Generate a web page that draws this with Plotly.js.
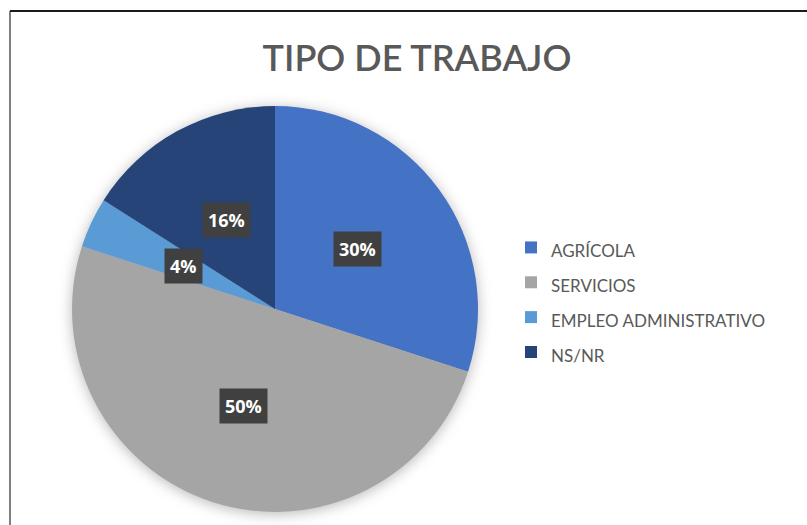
<!DOCTYPE html>
<html>
<head>
<meta charset="utf-8">
<script src="https://cdn.plot.ly/plotly-3.0.1.min.js"></script>
<style>
html,body{margin:0;padding:0;background:#fff;}
#chart{width:807px;height:525px;}
#chart .pielayer{filter: drop-shadow(0px 2px 7px rgba(0,0,0,0.28));}
</style>
</head>
<body>
<div id="chart"></div>
<script>
var categories = ["AGRÍCOLA", "SERVICIOS", "EMPLEO ADMINISTRATIVO", "NS/NR"];
var values = [30, 50, 4, 16];
var colors = ["#4472C4", "#A5A5A5", "#5B9BD5", "#264478"];
var chartTitle = "TIPO DE TRABAJO";

var W = 807, H = 525;
// pie placement (pixels)
var pcx = 275, pcy = 309, pr = 203;
var domX = [(pcx - pr) / W, (pcx + pr) / W];
var domY = [(H - pcy - pr) / H, (H - pcy + pr) / H];

var total = values.reduce(function(a, b){ return a + b; }, 0);
var legendLabels = categories.map(function(c){
  return '<span style="font-size:17px">' + c + '</span>';
});

var trace = {
  type: 'pie',
  labels: legendLabels,
  values: values,
  sort: false,
  direction: 'clockwise',
  rotation: 0,
  textinfo: 'none',
  hoverinfo: 'percent',
  marker: {colors: colors, line: {width: 0}},
  domain: {x: domX, y: domY}
};

// data labels in dark boxes, placed along each slice's mid angle
var annotations = [];
var acc = 0;
values.forEach(function(v, i){
  var mid = (acc + v / 2) / total * 2 * Math.PI;
  acc += v;
  var rr = pr * 0.5;
  var px = pcx + rr * Math.sin(mid);
  var py = pcy - rr * Math.cos(mid);
  annotations.push({
    xref: 'paper', yref: 'paper',
    x: px / W, y: (H - py) / H,
    xanchor: 'center', yanchor: 'middle',
    text: '<b>' + Math.round(v / total * 100) + '%</b>',
    showarrow: false,
    bgcolor: '#404040',
    borderpad: 5,
    font: {family: 'Open Sans, sans-serif', size: 18, color: '#ffffff'}
  });
});

var layout = {
  width: W, height: H,
  margin: {l: 0, r: 0, t: 0, b: 0},
  paper_bgcolor: '#ffffff',
  title: {
    text: chartTitle,
    x: 417 / W, xref: 'paper', xanchor: 'center',
    y: (H - 58) / H, yanchor: 'middle',
    font: {family: 'Lato, sans-serif', size: 36, color: '#595959', weight: 600}
  },
  showlegend: true,
  legend: {
    x: 511 / W, xanchor: 'left',
    y: (H - 300) / H, yanchor: 'middle',
    font: {family: 'Lato, sans-serif', size: 24.5, color: '#595959'},
    bgcolor: 'rgba(0,0,0,0)',
    itemwidth: 30
  },
  annotations: annotations,
  shapes: [
    {type: 'line', xref: 'paper', yref: 'paper', x0: 10 / W, x1: 10 / W, y0: 0, y1: (H - 11) / H,
     line: {color: '#808080', width: 2}},
    {type: 'line', xref: 'paper', yref: 'paper', x0: 10 / W, x1: 1, y0: (H - 11) / H, y1: (H - 11) / H,
     line: {color: '#1a1a1a', width: 2}}
  ]
};

Plotly.newPlot('chart', [trace], layout, {displayModeBar: false, staticPlot: true});
</script>
</body>
</html>
